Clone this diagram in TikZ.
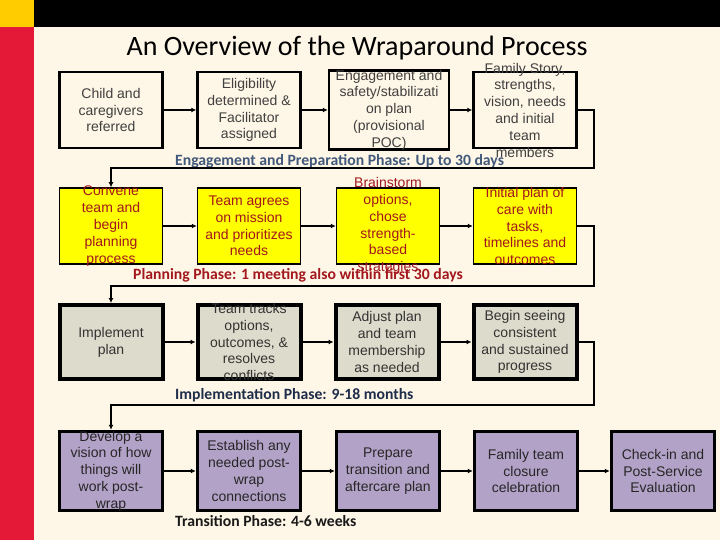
\documentclass[tikz,border=0pt]{standalone}
\usepackage{fontspec}
\setmainfont{Carlito}
\newfontfamily\boxfont{Liberation Sans}
\usepackage{tikz}
\usetikzlibrary{arrows.meta}

\definecolor{cream}{HTML}{FEF6E6}
\definecolor{stripred}{HTML}{E31937}
\definecolor{stripyellow}{HTML}{FFCC00}
\definecolor{planyellow}{HTML}{FFFF00}
\definecolor{implgrey}{HTML}{DDDBCB}
\definecolor{translilac}{HTML}{B3A2C7}
\definecolor{engageblue}{HTML}{40587A}
\definecolor{planred}{HTML}{A3171E}
\definecolor{implnavy}{HTML}{1E2D4A}

\tikzset{
  stage/.style={draw=black, minimum width=103pt, minimum height=76pt, inner sep=0pt},
  engage/.style={stage, fill=cream, line width=2.5pt},
  planning/.style={stage, fill=planyellow, line width=1.5pt},
  implement/.style={stage, fill=implgrey, line width=4pt},
  transition/.style={stage, fill=translilac, line width=3.5pt, minimum height=79pt},
  stagetext/.style={font=\boxfont\fontsize{14}{16.8}\selectfont, align=center, inner sep=0pt},
  phase/.style={anchor=west, font=\bfseries\fontsize{15.7}{18}\selectfont, inner sep=0pt},
  flow/.style={line width=2pt, -{Latex[length=5pt,width=5pt]}},
}

\begin{document}
\begin{tikzpicture}[x=1pt,y=-1pt]
  \useasboundingbox (0,0) rectangle (720,540);
  \fill[cream] (0,0) rectangle (720,540);
  \fill[black] (34,0) rectangle (720,27);
  \fill[stripyellow] (0,0) rectangle (34,27);
  \fill[stripred] (0,27) rectangle (34,540);

  \node[font=\fontsize{28}{32}\selectfont] (title) at (357,48) {An Overview of the Wraparound Process};

  % engagement and preparation
  \node[engage, label={[stagetext, text=black!75]center:Child and\\caregivers\\referred}] (b1) at (111,110) {};
  \node[engage, label={[stagetext, text=black!75]center:Eligibility\\determined \&\\Facilitator\\assigned}] (b2) at (249,110) {};
  \node[engage, minimum width=120pt, minimum height=79pt, label={[stagetext, text=black!75]center:Engagement and\\safety/stabilizati\\on plan\\(provisional\\POC)}] (b3) at (389,110) {};
  \node[engage, label={[stagetext, text=black!75]center:Family Story,\\strengths,\\vision, needs\\and initial\\team\\members}] (b4) at (525,110) {};
  \node[phase, text=engageblue] (p1) at (175,161) {Engagement and Preparation Phase: Up to 30 days};

  % planning
  \node[planning, label={[stagetext, text=planred]center:Convene\\team and\\begin\\planning\\process}] (b5) at (111,226) {};
  \node[planning, label={[stagetext, text=planred]center:Team agrees\\on mission\\and prioritizes\\needs}] (b6) at (249,226) {};
  \node[planning, label={[stagetext, text=planred]center:Brainstorm\\options,\\chose\\strength-\\based\\strategies}] (b7) at (388,226) {};
  \node[planning, label={[stagetext, text=planred]center:Initial plan of\\care with\\tasks,\\timelines and\\outcomes}] (b8) at (525,226) {};
  \node[phase, text=planred] (p2) at (133,275) {Planning Phase: 1 meeting also within first 30 days};

  % implementation
  \node[implement, minimum height=74pt, label={[stagetext, text=black!80]center:Implement\\plan}] (b9) at (111,342) {};
  \node[implement, minimum height=74pt, label={[stagetext, text=black!80]center:Team tracks\\options,\\outcomes, \&\\resolves\\conflicts}] (b10) at (249,342) {};
  \node[implement, minimum height=74pt, label={[stagetext, text=black!80]center:Adjust plan\\and team\\membership\\as needed}] (b11) at (387,342) {};
  \node[implement, minimum height=74pt, label={[stagetext, text=black!80]center:Begin seeing\\consistent\\and sustained\\progress}] (b12) at (525,342) {};
  \node[phase, text=implnavy] (p3) at (175,395) {Implementation Phase: 9-18 months};

  % transition
  \node[transition, label={[stagetext, text=black!85]center:Develop a\\vision of how\\things will\\work post-\\wrap}] (b13) at (111,471) {};
  \node[transition, label={[stagetext, text=black!85]center:Establish any\\needed post-\\wrap\\connections}] (b14) at (249,471) {};
  \node[transition, label={[stagetext, text=black!85]center:Prepare\\transition and\\aftercare plan}] (b15) at (388,471) {};
  \node[transition, label={[stagetext, text=black!85]center:Family team\\closure\\celebration}] (b16) at (526,471) {};
  \node[transition, label={[stagetext, text=black!85]center:Check-in and\\Post-Service\\Evaluation}] (b17) at (663,471) {};
  \node[phase, text=black!90] (p4) at (175,521) {Transition Phase: 4-6 weeks};

  % connectors
  \coordinate (r1) at (594,168);
  \coordinate (r2) at (594,286);
  \coordinate (r3) at (594,405);
  \draw[flow] (b1) -- (b2);
  \draw[flow] (b2) -- (b3);
  \draw[flow] (b3) -- (b4);
  \draw[flow] (b4.east) -| (r1) -| (b5.north);
  \draw[flow] (b5) -- (b6);
  \draw[flow] (b6) -- (b7);
  \draw[flow] (b7) -- (b8);
  \draw[flow] (b8.east) -| (r2) -| (b9.north);
  \draw[flow] (b9) -- (b10);
  \draw[flow] (b10) -- (b11);
  \draw[flow] (b11) -- (b12);
  \draw[flow] (b12.east) -| (r3) -| (b13.north);
  \draw[flow] (b13) -- (b14);
  \draw[flow] (b14) -- (b15);
  \draw[flow] (b15) -- (b16);
  \draw[flow] (b16) -- (b17);
\end{tikzpicture}
\end{document}
